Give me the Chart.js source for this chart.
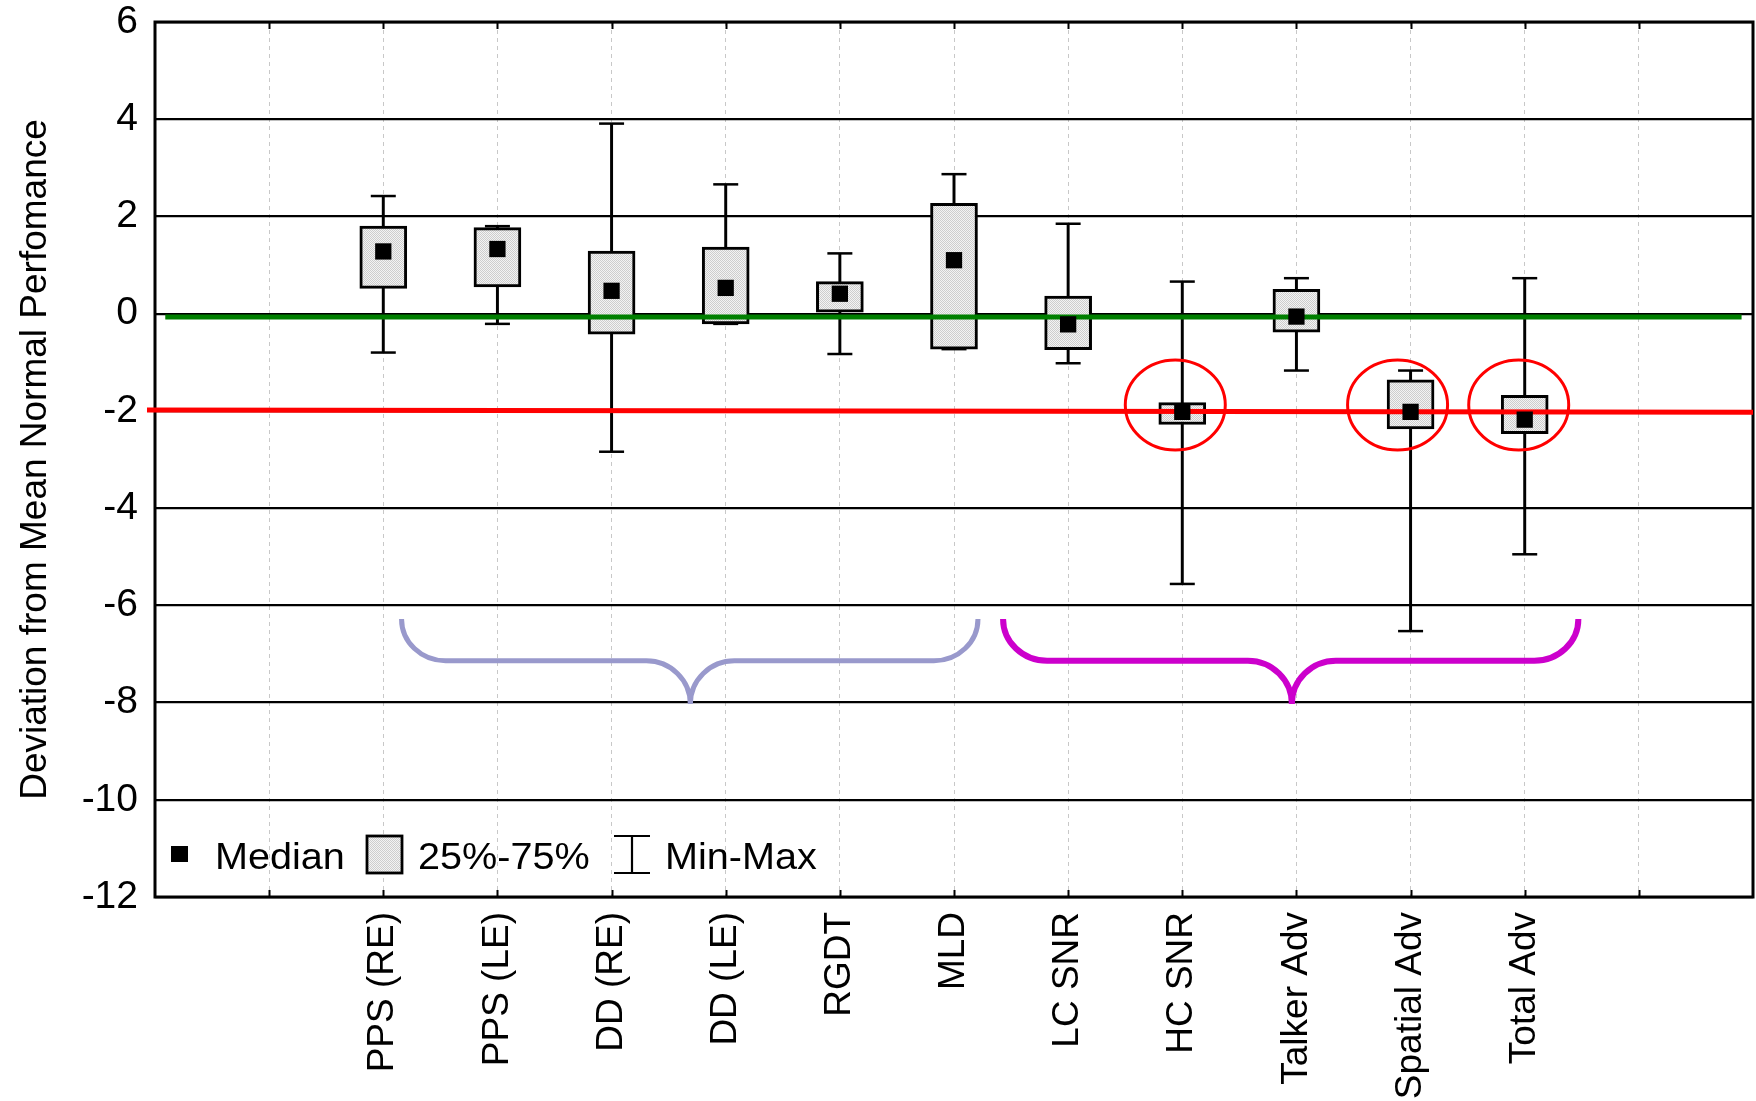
<!DOCTYPE html>
<html>
<head>
<meta charset="utf-8">
<script src="https://cdn.jsdelivr.net/npm/chart.js@4.4.1/dist/chart.umd.min.js"></script>
<style>
  html, body { margin: 0; padding: 0; background: #fff; }
  canvas { display: block; }
</style>
</head>
<body>
<canvas id="chart" width="1756" height="1101"></canvas>
<script>
// Test categories and their slot on the 0..14 x axis
const categories = ['PPS (RE)', 'PPS (LE)', 'DD (RE)', 'DD (LE)', 'RGDT', 'MLD',
                    'LC SNR', 'HC SNR', 'Talker Adv', 'Spatial Adv', 'Total Adv'];
const slots = [2, 3, 4, 5, 6, 7, 8, 9, 10, 11, 12];

// Box-plot statistics (deviation from mean normal performance)
const minValues    = [-0.80, -0.21, -2.84, -0.21, -0.83, -0.73, -1.02, -5.56, -1.17, -6.53, -4.95];
const q1Values     = [ 0.52,  0.55, -0.42, -0.21,  0.03, -0.73, -0.74, -2.28, -0.38, -2.37, -2.47];
const medianValues = [ 1.28,  1.33,  0.47,  0.53,  0.41,  1.10, -0.22, -2.02, -0.06, -2.02, -2.18];
const q3Values     = [ 1.80,  1.77,  1.29,  1.37,  0.66,  2.27,  0.36, -1.83,  0.50, -1.36, -1.68];
const maxValues    = [ 2.42,  1.80,  3.91,  2.66,  1.24,  2.87,  1.85,  0.66,  0.73, -1.17,  0.73];

// Reference lines: normal mean and the -2 cut-off
const normLine   = [{ x: 0.09, y: -0.07 }, { x: 13.9, y: -0.07 }];
const cutoffLine = [{ x: -0.07, y: -1.98 }, { x: 14, y: -2.03 }];

// Highlighted tests and the two groupings underneath the boxes
const highlighted = ['HC SNR', 'Spatial Adv', 'Total Adv'];
const groupRanges = [[2.16, 4.69, 7.21], [7.43, 9.96, 12.47]];

const FONT = '"Liberation Sans", Arial, Helvetica, sans-serif';
const canvas = document.getElementById('chart');
const mainCtx = canvas.getContext('2d');

// fine grey stipple used for the interquartile boxes
function stipple() {
  const p = document.createElement('canvas');
  p.width = 2; p.height = 2;
  const g = p.getContext('2d');
  g.fillStyle = '#f3f3f3'; g.fillRect(0, 0, 2, 2);
  g.fillStyle = '#cdcdcd'; g.fillRect(0, 0, 1, 1); g.fillRect(1, 1, 1, 1);
  return mainCtx.createPattern(p, 'repeat');
}
const boxFill = stipple();

const boxData     = slots.map((s, i) => ({ x: s, y: [q1Values[i], q3Values[i]] }));
const whiskerData = slots.map((s, i) => ({ x: s, y: [minValues[i], maxValues[i]] }));
const capData     = slots.flatMap((s, i) => [{ x: s, y: minValues[i] }, { x: s, y: maxValues[i] }]);
const medianData  = slots.map((s, i) => ({ x: s, y: medianValues[i] }));

const ellipseStyle = { dx: { 'HC SNR': -7, 'Spatial Adv': -13, 'Total Adv': -6 }, cy: -1.88, rx: 50, ry: 45 };
const braceStyle = { ends: -6.28, mid: -7.14, tip: -8.03, r: 44, colors: ['#9999cc', '#cc00cc'], widths: [5, 6] };

function stretchedText(ctx, text, x, y) {
  ctx.save();
  ctx.translate(x, y);
  ctx.scale(1.07, 1);
  ctx.fillText(text, 0, 0);
  ctx.restore();
}

function drawBrace(ctx, xs, ys, range, color, width) {
  const k = 0.5523, r = braceStyle.r;
  const xl = xs.getPixelForValue(range[0]);
  const xt = xs.getPixelForValue(range[1]);
  const xr = xs.getPixelForValue(range[2]);
  const ye = ys.getPixelForValue(braceStyle.ends);
  const ym = ys.getPixelForValue(braceStyle.mid);
  const yt = ys.getPixelForValue(braceStyle.tip);
  const r1 = ym - ye, r2 = yt - ym;
  ctx.save();
  ctx.strokeStyle = color;
  ctx.lineWidth = width;
  ctx.lineCap = 'butt';
  ctx.beginPath();
  ctx.moveTo(xl, ye);
  ctx.bezierCurveTo(xl, ye + k * r1, xl + r - k * r, ym, xl + r, ym);
  ctx.lineTo(xt - r, ym);
  ctx.bezierCurveTo(xt - r + k * r, ym, xt, yt - k * r2, xt, yt);
  ctx.bezierCurveTo(xt, yt - k * r2, xt + r - k * r, ym, xt + r, ym);
  ctx.lineTo(xr - r, ym);
  ctx.bezierCurveTo(xr - r + k * r, ym, xr, ye + k * r1, xr, ye);
  ctx.stroke();
  ctx.restore();
}

const decorations = {
  id: 'decorations',
  beforeDatasetsDraw(chart) {
    const { ctx, chartArea: a, scales: { x } } = chart;
    ctx.save();
    ctx.strokeStyle = '#000';
    ctx.lineWidth = 2;
    ctx.beginPath();
    for (let v = 1; v < 14; v++) {
      const px = Math.round(x.getPixelForValue(v)) + 0.5;
      ctx.moveTo(px, a.top); ctx.lineTo(px, a.top + 7);
      ctx.moveTo(px, a.bottom); ctx.lineTo(px, a.bottom - 7);
    }
    ctx.stroke();
    ctx.lineWidth = 3;
    ctx.strokeRect(a.left, a.top, a.right - a.left, a.bottom - a.top);
    ctx.restore();
  },
  afterDatasetsDraw(chart) {
    const { ctx, chartArea: a, scales: { x, y } } = chart;

    // group braces
    groupRanges.forEach((g, i) => drawBrace(ctx, x, y, g, braceStyle.colors[i], braceStyle.widths[i]));

    // red rings around the tests that fall below the cut-off
    ctx.save();
    ctx.strokeStyle = '#ff0000';
    ctx.lineWidth = 3;
    highlighted.forEach(name => {
      const i = categories.indexOf(name);
      const cx = x.getPixelForValue(slots[i]) + ellipseStyle.dx[name];
      const cy = y.getPixelForValue(ellipseStyle.cy);
      ctx.beginPath();
      ctx.ellipse(cx, cy, ellipseStyle.rx, ellipseStyle.ry, 0, 0, Math.PI * 2);
      ctx.stroke();
    });
    ctx.restore();

    // key inside the plot, bottom left
    const L = a.left, B = a.bottom;
    ctx.save();
    ctx.fillStyle = '#000';
    ctx.fillRect(L + 16, B - 51, 17, 16);
    ctx.fillStyle = boxFill;
    ctx.fillRect(L + 212, B - 61, 35, 37);
    ctx.strokeStyle = '#000';
    ctx.lineWidth = 2.8;
    ctx.strokeRect(L + 212, B - 61, 35, 37);
    ctx.lineWidth = 2.2;
    ctx.beginPath();
    ctx.moveTo(L + 459, B - 61); ctx.lineTo(L + 495, B - 61);
    ctx.moveTo(L + 477, B - 61); ctx.lineTo(L + 477, B - 24);
    ctx.moveTo(L + 459, B - 24); ctx.lineTo(L + 495, B - 24);
    ctx.stroke();
    ctx.fillStyle = '#000';
    ctx.font = '37px ' + FONT;
    ctx.textBaseline = 'alphabetic';
    ctx.textAlign = 'left';
    stretchedText(ctx, 'Median', L + 60, B - 28);
    stretchedText(ctx, '25%-75%', L + 263, B - 28);
    stretchedText(ctx, 'Min-Max', L + 510, B - 28);
    ctx.restore();
  }
};

new Chart(canvas, {
  type: 'bar',
  data: {
    datasets: [
      { type: 'scatter', data: medianData, order: 0, pointStyle: 'rect', pointRadius: 11.5,
        pointHoverRadius: 11.5, pointBackgroundColor: '#000', pointBorderWidth: 0 },
      { type: 'line', data: cutoffLine, order: 1, borderColor: '#ff0000', borderWidth: 5,
        pointRadius: 0, clip: false },
      { type: 'line', data: normLine, order: 1, borderColor: '#007f00', borderWidth: 5,
        pointRadius: 0, clip: false },
      { type: 'scatter', data: capData, order: 2, pointStyle: 'line', pointRadius: 12.5,
        pointHoverRadius: 12.5, pointBorderColor: '#000', pointBorderWidth: 2.5 },
      { data: boxData, order: 3, grouped: false, barThickness: 47, backgroundColor: boxFill,
        borderColor: '#000', borderWidth: 3, borderSkipped: false },
      { data: whiskerData, order: 4, grouped: false, barThickness: 2.3, backgroundColor: '#000',
        borderWidth: 0 }
    ]
  },
  options: {
    responsive: false,
    animation: false,
    devicePixelRatio: 1,
    layout: { autoPadding: false, padding: { top: 22, right: 3, left: 0, bottom: 0 } },
    plugins: { legend: { display: false }, tooltip: { enabled: false } },
    scales: {
      x: {
        type: 'linear', min: 0, max: 14, offset: false,
        grid: { offset: false, color: '#c8c8c8', lineWidth: 1, drawTicks: false },
        border: { display: false, dash: [4, 4] },
        ticks: {
          stepSize: 1, autoSkip: false, minRotation: 90, maxRotation: 90, padding: 15,
          color: '#000', font: { family: FONT, size: 37 },
          callback: v => { const i = slots.indexOf(v); return i >= 0 ? categories[i] : ''; }
        },
        afterFit: s => { s.height = 204; s.paddingLeft = 0; s.paddingRight = 0; }
      },
      y: {
        min: -12, max: 6,
        grid: { color: '#000', lineWidth: 2.2, drawTicks: false },
        border: { display: false },
        ticks: { stepSize: 2, padding: 17, color: '#000', font: { family: FONT, size: 39 } },
        title: {
          display: true, text: 'Deviation from Mean Normal Perfomance', color: '#000',
          font: { family: FONT, size: 37 }, padding: { top: 14, bottom: 0 }
        },
        afterFit: s => { s.width = 155; s.paddingTop = 0; s.paddingBottom = 0; }
      }
    }
  },
  plugins: [decorations]
});
</script>
</body>
</html>
